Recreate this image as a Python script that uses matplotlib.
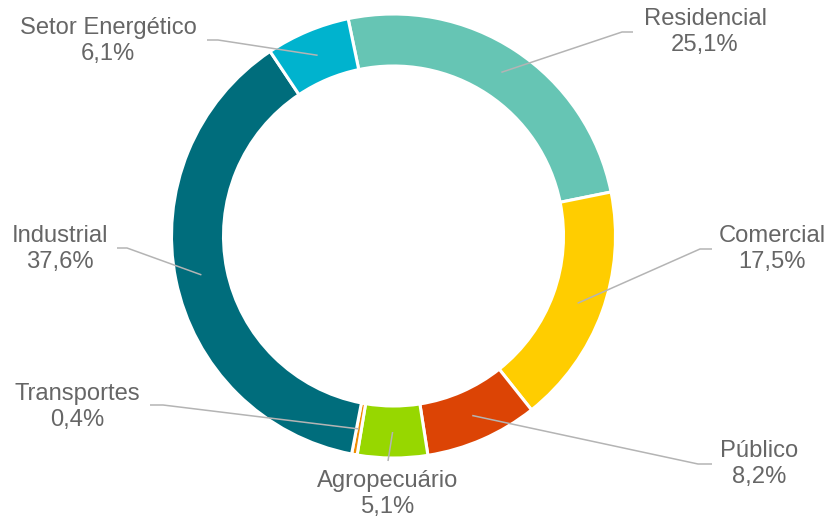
import numpy as np
import matplotlib
matplotlib.use("Agg")
import matplotlib.pyplot as plt

# dados
setores = ["Residencial", "Comercial", "Público", "Agropecuário",
           "Transportes", "Industrial", "Setor Energético"]
valores = [25.1, 17.5, 8.2, 5.1, 0.4, 37.6, 6.1]
cores = ["#66C5B4", "#FFCD00", "#DC4405", "#97D700",
         "#F08C00", "#006D7C", "#00B3CE"]

plt.rcParams["font.family"] = ["Liberation Sans", "DejaVu Sans"]

fig = plt.figure(figsize=(8.3, 5.22), dpi=100)
ax = fig.add_axes([0, 0, 1, 1])

# eixo em pixels, y para baixo
cx, cy = 393.5, 236
r_ext, largura = 222, 52

wedges, _ = ax.pie(valores, colors=cores, center=(cx, cy), radius=r_ext,
                   startangle=258.2, counterclock=True,
                   wedgeprops=dict(width=largura, edgecolor="white", linewidth=2.2))
ax.set_xlim(0, 830)
ax.set_ylim(522, 0)
ax.set_aspect("auto")
ax.axis("off")

# posição do rótulo (centro), início da linha e cotovelo
rotulos = {
    "Residencial": ((705, 32), (633, 32), (622, 32)),
    "Comercial": ((772, 249), (712, 249), (700, 249)),
    "Público": ((759, 464), (712, 464), (698, 464)),
    "Agropecuário": ((388, 494), (388, 461), (388, 461)),
    "Transportes": ((77, 407), (150, 405), (163, 405)),
    "Industrial": ((60, 249), (117, 248), (127, 248)),
    "Setor Energético": ((108, 41), (207, 40), (218, 40)),
}

r_meio = r_ext - largura / 2
for w, nome, v in zip(wedges, setores, valores):
    (tx, ty), (sx, sy), (ex, ey) = rotulos[nome]
    ang = np.deg2rad((w.theta1 + w.theta2) / 2)
    px = cx + r_meio * np.cos(ang)
    py = cy + r_meio * np.sin(ang)
    ax.plot([sx, ex, px], [sy, ey, py], color="#B4B4B4", lw=1.1,
            zorder=5, solid_capstyle="butt")
    txt = f"{nome}\n{v:.1f}%".replace(".", ",")
    ax.text(tx, ty, txt, ha="center", va="center", multialignment="center",
            fontsize=17.1, color="#666666", linespacing=1.24)

fig.savefig("out.png", dpi=100)
